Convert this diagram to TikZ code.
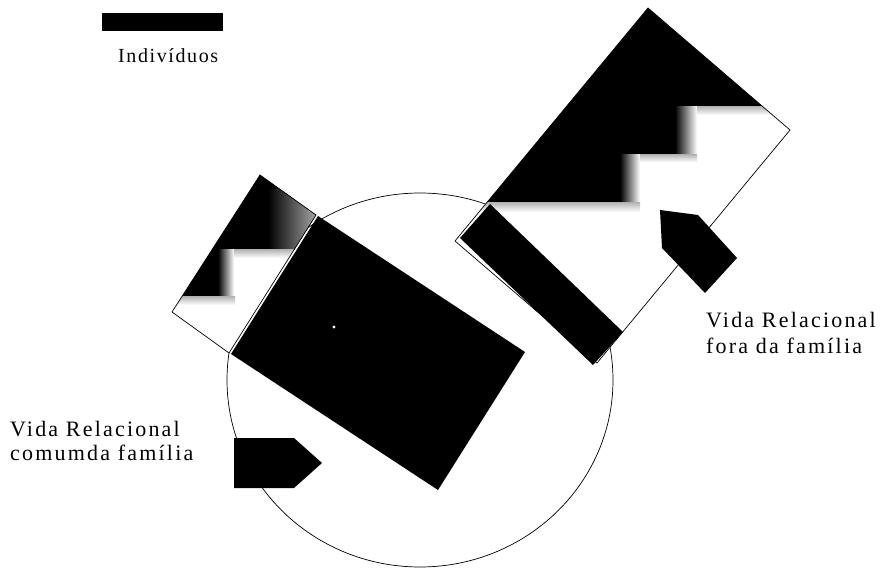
\documentclass[tikz,border=0pt]{standalone}
\usepackage{fontspec}
\setmainfont{Liberation Serif}
\newfontfamily\rotulofont[LetterSpace=10]{Liberation Serif}
\newfontfamily\legendafont[LetterSpace=8]{Liberation Serif}
\begin{document}
\begin{tikzpicture}[x=1pt, y=-1pt,
  contorno/.style={draw=black, line width=0.7pt},
  preto/.style={fill=black},
  seta/.style={fill=black},
  faixa/.style={top color=gray!55, bottom color=white},
  degrau/.style={left color=black, right color=white},
  rotulo/.style={anchor=base west, inner sep=0pt, font=\rotulofont\fontsize{22}{26}\selectfont}]
\useasboundingbox (0,0) rectangle (881,569);
% circulo da familia
\draw[line width=0.7pt] (420,380) ellipse [x radius=193, y radius=187];
% individuo fora da familia
\coordinate (ft) at (648,8);
\coordinate (fr) at (790,130);
\coordinate (fb) at (597,363);
\coordinate (fl) at (455,241);
\fill[white] (ft) -- (fr) -- (fb) -- (fl) -- cycle;
\begin{scope}
  \clip (ft) -- (fr) -- (fb) -- (fl) -- cycle;
  \fill[preto] (440,0) -- (800,0) -- (800,107) -- (675,107) -- (675,155) -- (620,155) -- (620,203) -- (440,203) -- cycle;
  \shade[degrau] (675,107) rectangle (697,155);
  \shade[degrau] (620,155) rectangle (640,203);
  \shade[faixa] (697,107) rectangle (800,115);
  \shade[faixa] (640,155) rectangle (697,162);
  \shade[faixa] (440,203) rectangle (640,212);
\end{scope}
\draw[contorno] (ft) -- (fr) -- (fb) -- (fl) -- cycle;
\fill[preto] (460,238) -- (490,204) -- (623,332) -- (593,365) -- cycle;
% individuo na familia
\coordinate (dt) at (260,175);
\coordinate (da) at (316,215);
\coordinate (dd) at (229,353);
\coordinate (dl) at (172,312);
\fill[white] (dt) -- (da) -- (dd) -- (dl) -- cycle;
\begin{scope}
  \clip (dt) -- (da) -- (dd) -- (dl) -- cycle;
  \fill[preto] (150,150) -- (340,150) -- (340,250) -- (218,250) -- (218,297) -- (150,297) -- cycle;
  \shade[left color=black, right color=gray!55] (268,190) rectangle (322,250);
  \shade[degrau] (218,250) rectangle (234,297);
  \shade[faixa] (234,250) rectangle (330,258);
  \shade[faixa] (150,297) rectangle (235,305);
\end{scope}
\draw[contorno] (dt) -- (da) -- (dd) -- (dl) -- cycle;
\fill[preto] (318,216) -- (525,352) -- (438,490) -- (231,354) -- cycle;
\fill[white] (334,327) circle [radius=1.6];
\draw[white, line width=0.8pt] (371,449) -- (396,465);
% setas
\fill[seta] (234,438) -- (294,438) -- (322,463) -- (294,488) -- (234,488) -- cycle;
\fill[seta] (660,210) -- (698,215) -- (737,258) -- (705,293) -- (662,248) -- cycle;
% rotulos
\node[rotulo] (vidaDentro) at (10,436) {Vida Relacional};
\node[rotulo] (familiaDentro) at (10,460) {comumda família};
\node[rotulo] (vidaFora) at (706,328) {Vida Relacional};
\node[rotulo] (familiaFora) at (706,353) {fora da família};
% legenda
\node[preto, minimum width=121, minimum height=18, inner sep=0pt] (barraLegenda) at (162.5,22) {};
\node[anchor=base west, inner sep=0pt, font=\legendafont\fontsize{20}{24}\selectfont] (individuos) at (118,63) {Indivíduos};
\end{tikzpicture}
\end{document}
